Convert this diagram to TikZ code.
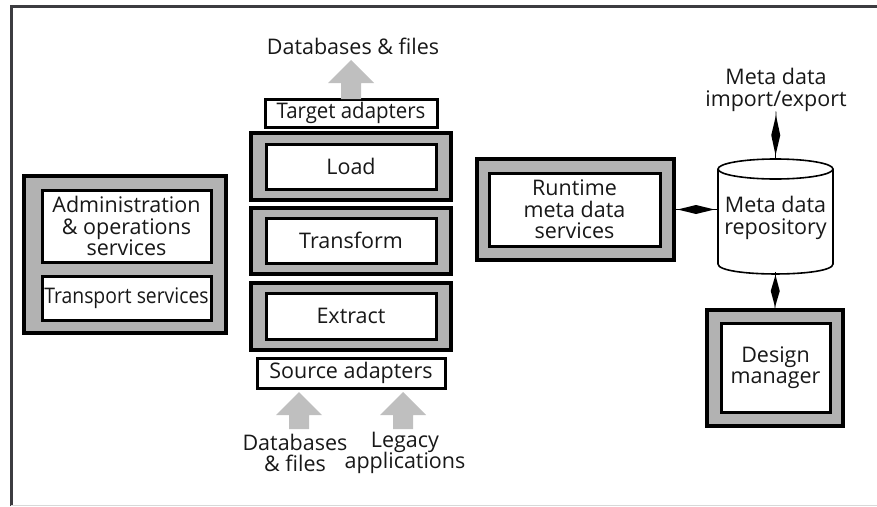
\documentclass[tikz,border=0pt]{standalone}
\usepackage{fontspec}
\setmainfont{Open Sans}
\usetikzlibrary{calc}
\definecolor{boxgray}{gray}{0.70}
\definecolor{arrowgray}{gray}{0.75}
\definecolor{inkc}{HTML}{181818}
\definecolor{framedark}{HTML}{3C3C40}
\definecolor{framelight}{HTML}{D8D8D8}
\newcommand\diagfont{\fontsize{21.5}{21.5}\selectfont}
% thin line with a black spindle in the middle (two-way link)
\newcommand\spindle[2]{%
  \draw[line width=0.8pt] (#1) -- (#2);
  \fill ($(#1)!0.08!(#2)$) -- ($(#1)!0.5!(#2)!4.5pt!90:(#2)$) -- ($(#1)!0.92!(#2)$) -- ($(#1)!0.5!(#2)!4.5pt!-90:(#2)$) -- cycle;}
% broad gray block arrow pointing up from #1 (tail) to #2 (tip)
\newcommand\blockarrow[2]{%
  \fill[arrowgray] ($(#1)+(-10,0)$) -- ($(#2)+(-10,23)$) -- ($(#2)+(-23,23)$) -- (#2)
    -- ($(#2)+(23,23)$) -- ($(#2)+(10,23)$) -- ($(#1)+(10,0)$) -- cycle;}
\begin{document}
\begin{tikzpicture}[x=1pt,y=-1pt,
  outerbox/.style={draw=black, fill=boxgray, line width=3.5pt, inner sep=0pt, outer sep=0pt},
  innerbox/.style={draw=black, fill=white, line width=3pt, inner sep=0pt, outer sep=0pt,
    align=center, text=inkc, font=\diagfont},
  plain/.style={inner sep=0pt, outer sep=0pt, align=center, text=inkc, font=\diagfont}]
\useasboundingbox (0,0) rectangle (877,506);

% frame
\draw[framedark, line width=3pt] (11,506) -- (11,6.5) -- (877,6.5);
\draw[framelight, line width=1pt] (11,505) -- (877,505);

% services block (left)
\node[outerbox, minimum width=202, minimum height=157] (svcO) at (125,254.5) {};
\node[innerbox, minimum width=169, minimum height=72] (admin) at (126.5,226)
  {Administration\\\& operations\\services};
\node[innerbox, minimum width=169, minimum height=44] (transp) at (126.5,298)
  {\scalebox{0.9}[1]{Transport services}};

% ETL column
\node[outerbox, minimum width=200, minimum height=67] (loadO) at (351,166.5) {};
\node[innerbox, minimum width=170, minimum height=45] (load) at (351,166.5) {Load};
\node[outerbox, minimum width=200, minimum height=66] (transO) at (351,241) {};
\node[innerbox, minimum width=170, minimum height=45] (trans) at (351,240.5) {Transform};
\node[outerbox, minimum width=200, minimum height=67] (extrO) at (351,316.5) {};
\node[innerbox, minimum width=170, minimum height=46] (extr) at (351,316) {Extract};
\node[innerbox, minimum width=172, minimum height=28] (tadapt) at (351,113) {\scalebox{0.95}[1]{Target adapters}};
\node[innerbox, minimum width=188, minimum height=30] (sadapt) at (351,373) {Source adapters};

\node[plain] (dbtop) at (353,46) {Databases \& files};
\node[plain] (dbsrc) at (295,453) {Databases\\\& files};
\node[plain] (legacy) at (405,453) {Legacy\\applications};

\coordinate (toptip) at ($(tadapt.north)+(0,-39)$);
\blockarrow{tadapt.north}{toptip}
\coordinate (tipA) at ($(sadapt.south)+(-52,4)$);
\coordinate (tailA) at ($(sadapt.south)+(-52,41)$);
\coordinate (tipB) at ($(sadapt.south)+(52,4)$);
\coordinate (tailB) at ($(sadapt.south)+(52,41)$);
\blockarrow{tailA}{tipA}
\blockarrow{tailB}{tipB}

% runtime meta data services
\node[outerbox, minimum width=197, minimum height=101] (rtO) at (575.5,209.5) {};
\node[innerbox, minimum width=171, minimum height=73] (rt) at (574.5,209.5)
  {Runtime\\meta data\\services};

% meta data repository (cylinder)
\fill[white] (718,169) -- (718,264) .. controls (718,277.3) and (833,277.3) .. (833,264) -- (833,169) -- cycle;
\draw[line width=1.6pt] (718,169) -- (718,264) .. controls (718,277.3) and (833,277.3) .. (833,264) -- (833,169);
\draw[line width=1.6pt] (775.5,169) ellipse [x radius=57.5, y radius=10];
\node[plain, minimum width=115, minimum height=115] (repo) at (775.5,218) {Meta data\\repository};

\node[plain] (impexp) at (776,90) {Meta data\\import/export};

% design manager
\node[outerbox, minimum width=136, minimum height=116] (dmO) at (775,368) {};
\node[innerbox, minimum width=109, minimum height=89] (dm) at (775.5,367.5) {Design\\manager};

% links
\coordinate (repoL) at (repo.west |- rtO.east);
\coordinate (repoT) at (repo.north |- 0,159);
\coordinate (repoB) at (repo.south |- 0,272);
\spindle{rtO.east}{repoL}
\spindle{impexp.south}{repoT}
\spindle{repoB}{dmO.north}
\end{tikzpicture}
\end{document}
